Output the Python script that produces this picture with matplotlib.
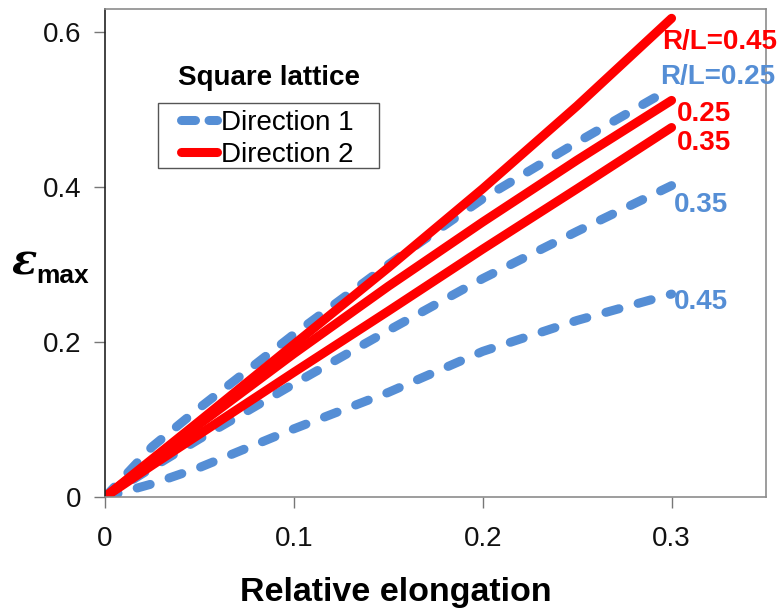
import matplotlib
matplotlib.use("Agg")
import matplotlib.pyplot as plt
from matplotlib.legend_handler import HandlerLine2D
from matplotlib.patches import Rectangle

plt.rcParams['font.family'] = ['Liberation Sans', 'DejaVu Sans']

# Relative elongation sample points
elong = [0.0, 0.025, 0.05, 0.1, 0.15, 0.2, 0.25, 0.3]

# Direction 1 (dashed, blue)
d1_r025 = [0.0, 0.065, 0.115, 0.210, 0.300, 0.385, 0.458, 0.528]
d1_r035 = [0.0, 0.038, 0.075, 0.146, 0.215, 0.282, 0.343, 0.402]
d1_r045 = [0.0, 0.017, 0.038, 0.088, 0.135, 0.188, 0.228, 0.262]

# Direction 2 (solid, red)
d2_r045 = [0.0, 0.049, 0.098, 0.197, 0.296, 0.398, 0.505, 0.618]
d2_r025 = [0.0, 0.047, 0.094, 0.185, 0.272, 0.355, 0.435, 0.512]
d2_r035 = [0.0, 0.041, 0.081, 0.161, 0.240, 0.320, 0.398, 0.477]

x_ticks = [0, 0.1, 0.2, 0.3]
x_ticklabels = ['0', '0.1', '0.2', '0.3']
y_ticks = [0, 0.2, 0.4, 0.6]
y_ticklabels = ['0', '0.2', '0.4', '0.6']

BLUE = '#558ED5'
RED = '#FF0000'

W, H = 782, 613
PX = 72 / 100  # points per pixel at 100 dpi


class LeftPaddedLine(HandlerLine2D):
    """Legend line handler with blank space before the line and optional
    dash pattern of its own."""

    def __init__(self, lpad, dashes=None, **kw):
        super().__init__(**kw)
        self.lpad = lpad
        self.dashes = dashes

    def get_xdata(self, legend, xdescent, ydescent, width, height, fontsize):
        xd, xm = super().get_xdata(legend, xdescent, ydescent, width, height, fontsize)
        xd = [-xdescent + self.lpad, -xdescent + width]
        return xd, xm

    def create_artists(self, *args, **kwargs):
        artists = super().create_artists(*args, **kwargs)
        if self.dashes is not None:
            artists[0].set_linestyle(self.dashes)
        return artists


fig = plt.figure(figsize=(W / 100, H / 100), dpi=100)
ax = fig.add_axes([105 / W, 1 - 497 / H, (766 - 105) / W, (497 - 9) / H])

dash_kw = dict(color=BLUE, lw=6.5, linestyle=(0, (1.5, 2.2)),
               dash_capstyle='round', solid_capstyle='round')
solid_kw = dict(color=RED, lw=6.5, solid_capstyle='round')

ax.plot(elong, d1_r045, **dash_kw)
ax.plot(elong, d1_r035, **dash_kw)
l1, = ax.plot(elong, d1_r025, label='Direction 1', **dash_kw)
ax.plot(elong, d2_r035, **solid_kw)
ax.plot(elong, d2_r025, **solid_kw)
l2, = ax.plot(elong, d2_r045, label='Direction 2', **solid_kw)

ax.set_xlim(0, 0.35)
ax.set_ylim(0, 0.63)
ax.set_xticks(x_ticks)
ax.set_xticklabels(x_ticklabels)
ax.set_yticks(y_ticks)
ax.set_yticklabels(y_ticklabels)
ax.tick_params(axis='both', direction='out', length=8, width=1,
               color='#777777', labelsize=20, labelcolor='#111111')
ax.tick_params(axis='x', pad=13)
ax.tick_params(axis='y', pad=9)

for side in ('top', 'right', 'bottom'):
    ax.spines[side].set_color('#8c8c8c')
    ax.spines[side].set_linewidth(1.2)
ax.spines['left'].set_color('#222222')
ax.spines['left'].set_linewidth(1.2)

# Curve labels
lab_kw = dict(fontsize=20, fontweight='bold', va='center', ha='left', clip_on=False)
ax.text(0.295, 0.587, 'R/L=0.45', color=RED, **lab_kw)
ax.text(0.294, 0.542, 'R/L=0.25', color=BLUE, **lab_kw)
ax.text(0.303, 0.495, '0.25', color=RED, **lab_kw)
ax.text(0.303, 0.457, '0.35', color=RED, **lab_kw)
ax.text(0.301, 0.377, '0.35', color=BLUE, **lab_kw)
ax.text(0.301, 0.252, '0.45', color=BLUE, **lab_kw)

# Legend: entries without frame, box drawn separately, heading above
lead = 16.5 * PX
leg = ax.legend(handles=[l1, l2], loc='upper left',
                bbox_to_anchor=((158 - 105) / 661, (497 - 103) / 488),
                borderaxespad=0, frameon=False, fontsize=20,
                handlelength=(16.5 + 36) * PX / 20, handletextpad=3.5 * PX / 20,
                borderpad=0.25, labelspacing=0.2,
                handler_map={l1: LeftPaddedLine(lead, dashes=(0, (1.55, 1.5))),
                             l2: LeftPaddedLine(lead)})
fig.patches.append(Rectangle((158 / W, 1 - 168 / H), (379 - 158) / W, (168 - 103) / H,
                             transform=fig.transFigure, fill=False,
                             edgecolor='#555555', linewidth=1.0, zorder=5))
fig.text(269 / W, 1 - 78 / H, 'Square lattice', fontsize=20, fontweight='bold',
         ha='center', va='center')

# Axis titles
fig.text(396 / W, 1 - 593 / H, 'Relative elongation', fontsize=24.5,
         fontweight='bold', ha='center', va='center')
fig.text(12 / W, 1 - 262 / H, 'ε', fontsize=30, fontweight='bold',
         fontstyle='italic', family='DejaVu Serif', ha='left', va='center')
fig.text(36 / W, 1 - 276 / H, 'max', fontsize=19, fontweight='bold',
         ha='left', va='center')

fig.savefig('out.png', dpi=100)
